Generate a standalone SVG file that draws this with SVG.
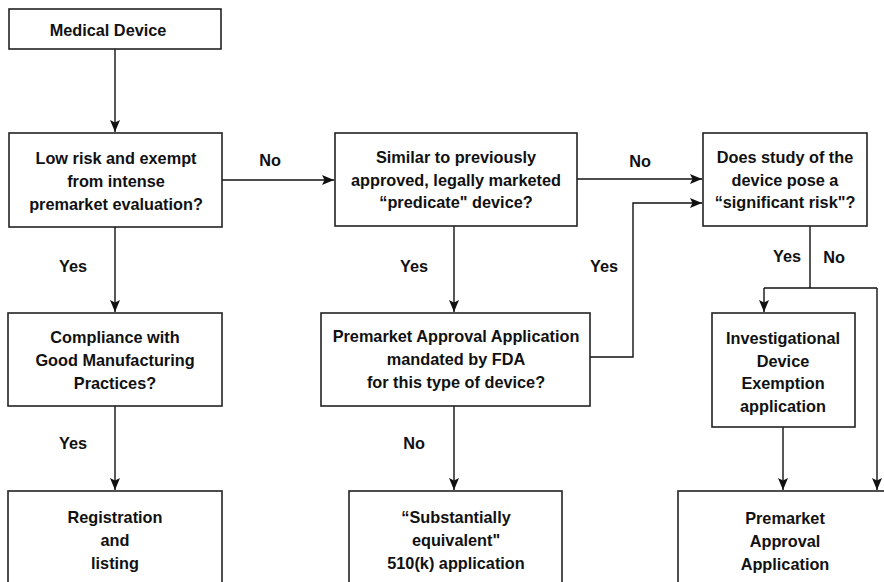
<svg xmlns="http://www.w3.org/2000/svg" width="884" height="582" viewBox="0 0 884 582">
  <style>
    .box { fill: #ffffff; stroke: #222222; stroke-width: 1.6; }
    .t { font-family: "Liberation Sans", Arial, sans-serif; font-weight: bold; font-size: 16.3px; fill: #111111; text-anchor: middle; dominant-baseline: central; }
    .lbl { font-family: "Liberation Sans", Arial, sans-serif; font-weight: bold; font-size: 16.3px; fill: #111111; text-anchor: middle; dominant-baseline: central; }
    .c { fill: none; stroke: #111111; stroke-width: 1.4; }
  </style>
  <defs>
    <marker id="arrow" viewBox="0 0 12 10" refX="12" refY="5" markerWidth="12" markerHeight="10" markerUnits="userSpaceOnUse" orient="auto">
      <path d="M0,0 L12,5 L0,10 L2.5,5 z" fill="#111111"/>
    </marker>
  </defs>
  <rect width="884" height="582" fill="#ffffff"/>

  <g id="connectors">
    <path class="c" d="M115,49 V132" marker-end="url(#arrow)"/>
    <path class="c" d="M222,180 H334" marker-end="url(#arrow)"/>
    <path class="c" d="M115,227 V312" marker-end="url(#arrow)"/>
    <path class="c" d="M115,406 V490" marker-end="url(#arrow)"/>
    <path class="c" d="M454,226 V312" marker-end="url(#arrow)"/>
    <path class="c" d="M454,406 V490" marker-end="url(#arrow)"/>
    <path class="c" d="M577,179 H702" marker-end="url(#arrow)"/>
    <path class="c" d="M590,357 H633 V203 H702" marker-end="url(#arrow)"/>
    <path class="c" d="M810,226 V288"/>
    <path class="c" d="M764,288 H877"/>
    <path class="c" d="M764,288 V312" marker-end="url(#arrow)"/>
    <path class="c" d="M877,288 V490" marker-end="url(#arrow)"/>
    <path class="c" d="M783,427 V490" marker-end="url(#arrow)"/>
    <g>
      <text class="lbl" x="270" y="160">No</text>
      <text class="lbl" x="640" y="161">No</text>
      <text class="lbl" x="73" y="266">Yes</text>
      <text class="lbl" x="414" y="266">Yes</text>
      <text class="lbl" x="604" y="266">Yes</text>
      <text class="lbl" x="787" y="256">Yes</text>
      <text class="lbl" x="834" y="257">No</text>
      <text class="lbl" x="73" y="443">Yes</text>
      <text class="lbl" x="414" y="443">No</text>
    </g>
  </g>

  <g id="medical-device">
    <rect class="box" x="9" y="9" width="212" height="40"/>
    <text class="t" x="108" y="30">Medical Device</text>
  </g>

  <g id="low-risk">
    <rect class="box" x="9" y="133" width="213" height="94"/>
    <text class="t" x="116" y="158">Low risk and exempt</text>
    <text class="t" x="116" y="181">from intense</text>
    <text class="t" x="116" y="204">premarket evaluation?</text>
  </g>

  <g id="similar-predicate">
    <rect class="box" x="335" y="133" width="242" height="93"/>
    <text class="t" x="456" y="157">Similar to previously</text>
    <text class="t" x="456" y="180">approved, legally marketed</text>
    <text class="t" x="456" y="202">“predicate" device?</text>
  </g>

  <g id="significant-risk">
    <rect class="box" x="703" y="133" width="164" height="93"/>
    <text class="t" x="785" y="157">Does study of the</text>
    <text class="t" x="785" y="180">device pose a</text>
    <text class="t" x="785" y="202">“significant risk"?</text>
  </g>

  <g id="gmp-compliance">
    <rect class="box" x="8" y="313" width="214" height="93"/>
    <text class="t" x="115" y="337">Compliance with</text>
    <text class="t" x="115" y="360">Good Manufacturing</text>
    <text class="t" x="115" y="383">Practices?</text>
  </g>

  <g id="pma-mandated">
    <rect class="box" x="321" y="313" width="269" height="93"/>
    <text class="t" x="456" y="336">Premarket Approval Application</text>
    <text class="t" x="456" y="359">mandated by FDA</text>
    <text class="t" x="456" y="382">for this type of device?</text>
  </g>

  <g id="ide-application">
    <rect class="box" x="712" y="313" width="143" height="114"/>
    <text class="t" x="783" y="338">Investigational</text>
    <text class="t" x="783" y="361">Device</text>
    <text class="t" x="783" y="383">Exemption</text>
    <text class="t" x="783" y="406">application</text>
  </g>

  <g id="registration">
    <rect class="box" x="8" y="491" width="214" height="110"/>
    <text class="t" x="115" y="517">Registration</text>
    <text class="t" x="115" y="540">and</text>
    <text class="t" x="115" y="563">listing</text>
  </g>

  <g id="substantially-equivalent">
    <rect class="box" x="349" y="491" width="213" height="110"/>
    <text class="t" x="456" y="517">“Substantially</text>
    <text class="t" x="456" y="540">equivalent"</text>
    <text class="t" x="456" y="563">510(k) application</text>
  </g>

  <g id="pma-application">
    <rect class="box" x="678" y="491" width="220" height="110"/>
    <text class="t" x="785" y="518">Premarket</text>
    <text class="t" x="785" y="541">Approval</text>
    <text class="t" x="785" y="564">Application</text>
  </g>
</svg>
